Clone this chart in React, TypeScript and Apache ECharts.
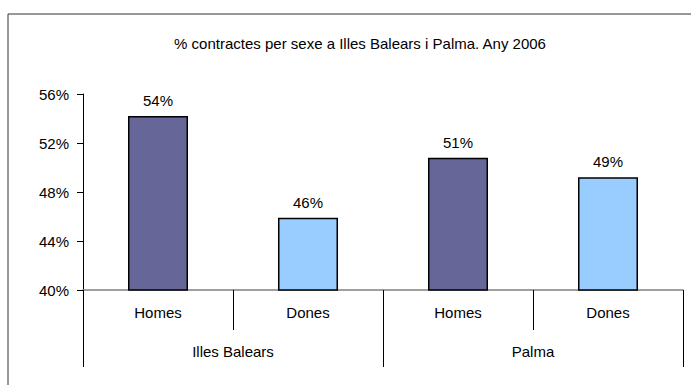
import React, { useEffect, useRef } from "react";
import * as echarts from "echarts";

const titleText = "% contractes per sexe a Illes Balears i Palma. Any 2006";
const sexCategories = ["Homes", "Dones", "Homes", "Dones"];
const groupCategories = ["Illes Balears", "Palma"];
const values = [54.2, 45.9, 50.8, 49.2];
const barColors = ["#666699", "#99CCFF", "#666699", "#99CCFF"];
const yMin = 40;
const yMax = 56;
const yInterval = 4;

export default function App() {
  const ref = useRef<HTMLDivElement>(null);
  useEffect(() => {
    if (!ref.current) return;
    const chart = echarts.init(ref.current, null, { renderer: "svg" });
    const font = "'Liberation Sans', Arial, sans-serif";
    chart.setOption({
      animation: false,
      backgroundColor: "#ffffff",
      title: {
        text: titleText,
        left: 355,
        top: 31,
        textAlign: "center",
        textStyle: { fontFamily: font, fontSize: 15, fontWeight: "normal", color: "#000" },
      },
      graphic: [
        {
          type: "rect",
          shape: { x: 8, y: 14, width: 700, height: 400 },
          style: { fill: "none", stroke: "#333", lineWidth: 1 },
          silent: true,
        },
      ],
      grid: { left: 83, right: 8, top: 94, bottom: 95 },
      yAxis: {
        type: "value",
        min: yMin,
        max: yMax,
        interval: yInterval,
        axisLine: { show: true, lineStyle: { color: "#000", width: 1 } },
        axisTick: { show: true, length: 6, lineStyle: { color: "#000" } },
        splitLine: { show: false },
        axisLabel: {
          formatter: "{value}%",
          margin: 14,
          fontFamily: font,
          fontSize: 15,
          color: "#000",
        },
      },
      xAxis: [
        {
          type: "category",
          data: sexCategories,
          position: "bottom",
          boundaryGap: true,
          axisLine: { show: true, lineStyle: { color: "#808080", width: 1.5 } },
          axisTick: { show: true, length: 40, interval: 0, lineStyle: { color: "#000" } },
          axisLabel: { margin: 15, fontFamily: font, fontSize: 15, color: "#000", interval: 0 },
        },
        {
          type: "category",
          data: groupCategories,
          position: "bottom",
          offset: 0,
          boundaryGap: true,
          axisLine: { show: false },
          axisTick: { show: true, length: 77, interval: 0, lineStyle: { color: "#000" } },
          axisLabel: { margin: 54, fontFamily: font, fontSize: 15, color: "#000", interval: 0 },
        },
      ],
      series: [
        {
          type: "bar",
          xAxisIndex: 0,
          barWidth: "40%",
          data: values.map((v, i) => ({
            value: v,
            itemStyle: { color: barColors[i], borderColor: "#000", borderWidth: 1.5 },
          })),
          label: {
            show: true,
            position: "top",
            distance: 8,
            formatter: (p: any) => Math.round(p.value) + "%",
            fontFamily: font,
            fontSize: 15,
            color: "#000",
          },
        },
      ],
    });
    return () => chart.dispose();
  }, []);
  return (
    <div
      ref={ref}
      style={{ position: "fixed", left: 0, top: 0, width: 691, height: 385 }}
    />
  );
}
